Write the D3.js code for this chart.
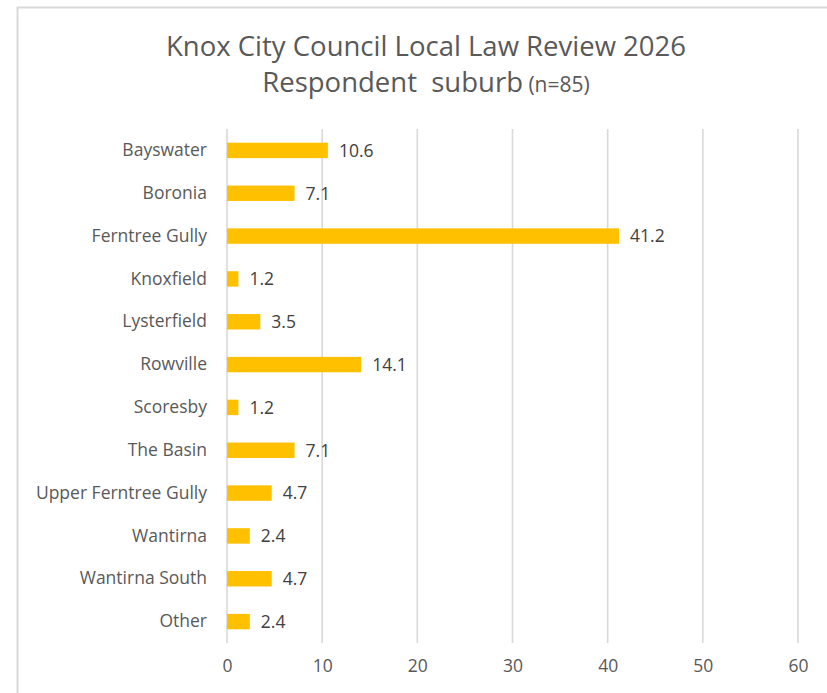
<!DOCTYPE html>
<html>
<head>
<meta charset="utf-8">
<script src="https://cdn.jsdelivr.net/npm/d3@7"></script>
<style>
  body { margin: 0; background: #fff; }
  svg { display: block; font-family: "Open Sans", sans-serif; }
</style>
</head>
<body>
<div id="canvas"></div>
<script>
// suburbs and share of respondents (%)
const suburbs = ["Bayswater", "Boronia", "Ferntree Gully", "Knoxfield", "Lysterfield", "Rowville",
  "Scoresby", "The Basin", "Upper Ferntree Gully", "Wantirna", "Wantirna South", "Other"];
const percents = [10.6, 7.1, 41.2, 1.2, 3.5, 14.1, 1.2, 7.1, 4.7, 2.4, 4.7, 2.4];
const xTicks = [0, 10, 20, 30, 40, 50, 60];
const titleLine1 = "Knox City Council Local Law Review 2026";
const titleLine2 = "Respondent\u00a0 suburb";
const titleN = " (n=85)";

const width = 827;
const height = 693;
const margin = { top: 129, left: 227, bottom: 50, right: 29 };
const iwidth = width - margin.left - margin.right;
const iheight = height - margin.top - margin.bottom;
const fontStack = "'Open Sans', sans-serif";

const svg = d3.select("#canvas").append("svg")
  .attr("width", width)
  .attr("height", height);

// chart border
svg.append("rect")
  .attr("x", 17.5).attr("y", 7.5)
  .attr("width", 900).attr("height", 900)
  .attr("fill", "none")
  .attr("stroke", "#d9d9d9")
  .attr("stroke-width", 2);

// title
const title = svg.append("text")
  .attr("text-anchor", "middle")
  .attr("fill", "#595959");
title.append("tspan")
  .attr("x", 426).attr("y", 56)
  .style("font-size", "27.5px")
  .text(titleLine1);
title.append("tspan")
  .attr("x", 426).attr("y", 92)
  .style("font-size", "27.5px")
  .text(titleLine2);
title.append("tspan")
  .style("font-size", "21px")
  .text(titleN);

const g = svg.append("g").attr("transform", `translate(${margin.left},${margin.top})`);

const x = d3.scaleLinear()
  .domain([0, 60])
  .range([0, iwidth]);

const y = d3.scaleBand()
  .domain(suburbs)
  .range([0, iheight])
  .paddingInner(0.64)
  .paddingOuter(0.32);

// vertical gridlines
g.append("g")
  .selectAll("line")
  .data(xTicks)
  .join("line")
  .attr("x1", d => x(d)).attr("x2", d => x(d))
  .attr("y1", 0).attr("y2", iheight)
  .attr("stroke", "#d9d9d9")
  .attr("stroke-width", 1.6);

// bars
g.selectAll("rect.bar")
  .data(suburbs)
  .join("rect")
  .attr("class", "bar")
  .attr("x", x(0))
  .attr("y", d => y(d))
  .attr("width", (d, i) => x(percents[i]) - x(0))
  .attr("height", y.bandwidth())
  .attr("fill", "#ffc000");

// value labels
g.selectAll("text.value")
  .data(suburbs)
  .join("text")
  .attr("class", "value")
  .attr("x", (d, i) => x(percents[i]) + 11)
  .attr("y", d => y(d) + y.bandwidth() / 2)
  .attr("dy", "0.36em")
  .attr("fill", "#404040")
  .style("font-size", "17.5px")
  .text((d, i) => percents[i].toFixed(1));

// category axis
const yAxis = g.append("g")
  .call(d3.axisLeft(y).tickSize(0).tickPadding(20));
yAxis.select(".domain").remove();
yAxis.selectAll("text")
  .attr("fill", "#595959")
  .style("font-size", "17.5px")
  .style("font-family", fontStack);

// value axis
const xAxis = g.append("g")
  .attr("transform", `translate(0,${iheight})`)
  .call(d3.axisBottom(x).tickValues(xTicks).tickSize(0).tickPadding(17));
xAxis.select(".domain").remove();
xAxis.selectAll("text")
  .attr("fill", "#595959")
  .style("font-size", "17.5px")
  .style("font-family", fontStack);
</script>
</body>
</html>
